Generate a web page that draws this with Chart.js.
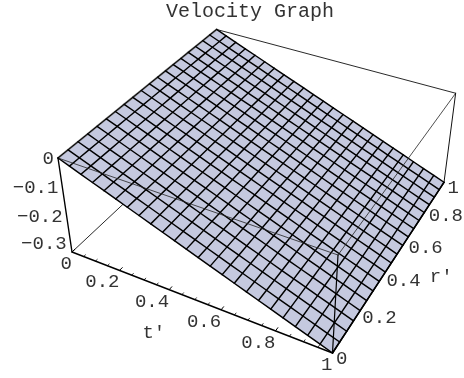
<!DOCTYPE html>
<html><head><meta charset="utf-8">
<style>html,body{margin:0;padding:0;background:#fff;overflow:hidden}#w{width:464px;height:378px;position:relative}</style>
<script src="https://cdn.jsdelivr.net/npm/chart.js@4"></script>
</head><body><div id="w"><canvas id="c" width="464" height="378"></canvas></div>
<script>
const titleText = "Velocity Graph";
const tGrid = [0,0.0435,0.087,0.1304,0.1739,0.2174,0.2609,0.3043,0.3478,0.3913,0.4348,0.4783,0.5217,0.5652,0.6087,0.6522,0.6957,0.7391,0.7826,0.8261,0.8696,0.913,0.9565,1];
const rGrid = [0,0.0526,0.1053,0.1579,0.2105,0.2632,0.3158,0.3684,0.4211,0.4737,0.5263,0.5789,0.6316,0.6842,0.7368,0.7895,0.8421,0.8947,0.9474,1];
const velocityByT = [0,-0.0145,-0.029,-0.0435,-0.058,-0.0725,-0.087,-0.1014,-0.1159,-0.1304,-0.1449,-0.1594,-0.1739,-0.1884,-0.2029,-0.2174,-0.2319,-0.2464,-0.2609,-0.2754,-0.2899,-0.3043,-0.3188,-0.3333];
const tTicks = [0,0.2,0.4,0.6,0.8,1];
const tMinorTicks = [0.05,0.1,0.15,0.25,0.3,0.35,0.45,0.5,0.55,0.65,0.7,0.75,0.85,0.9,0.95];
const rTicks = [0,0.2,0.4,0.6,0.8,1];
const zTicks = [0,-0.1,-0.2,-0.3];
const zMin = -0.3333, zMax = 0;

// Viewing transform of the 3D box (homogeneous): columns t, r, z-fraction, origin
const camX = [224.71,193.91,-17.92,72];
const camY = [63.0,-113.6,-104.67,252];
const camW = [-0.10764,0.2126,-0.06753,1];
function project(t,r,z){
  const f=(z-zMin)/(zMax-zMin);
  const d=camW[0]*t+camW[1]*r+camW[2]*f+camW[3];
  return {x:(camX[0]*t+camX[1]*r+camX[2]*f+camX[3])/d,
          y:(camY[0]*t+camY[1]*r+camY[2]*f+camY[3])/d};
}
const FONT='"Liberation Mono","Courier New",monospace';
const TEXT='#333';
const ds=[];
function line(pts,color,width,extra){
  ds.push(Object.assign({data:pts,showLine:true,borderColor:color,borderWidth:width,pointRadius:0,tension:0,fill:false,clip:false,borderCapStyle:'round'},extra||{}));
}
// hidden back edge, under the surface
line([project(0,0,zMin),project(0,1,zMin)],'#111',0.9);
// surface fill
line([project(0,0,0),project(0,1,0),project(1,1,zMin),project(1,0,zMin),project(0,0,0)],'rgba(0,0,0,0)',0,{fill:'shape',backgroundColor:'#c5c9df'});
// mesh
tGrid.forEach((t,i)=>{ line(rGrid.map(r=>project(t,r,velocityByT[i])),i===0?'#666':'#000',i===0?2:1.45); });
rGrid.forEach(r=>{ line(tGrid.map((t,i)=>project(t,r,velocityByT[i])),'#000',1.45); });
// box edges
line([project(0,0,0),project(1,0,0)],'#222',0.8);
line([project(1,0,0),project(1,1,0)],'#222',0.8);
line([project(0,1,0),project(1,1,0)],'#111',0.9);
line([project(1,1,0),project(1,1,zMin)],'#111',1);
line([project(1,0,0),project(1,0,zMin)],'#000',1.2);
line([project(0,0,0),project(0,1,0)],'#000',1);
// axes
line([project(0,0,0),project(0,0,zMin)],'#000',1.4);
line([project(0,0,zMin),project(1,0,zMin)],'#000',1.4);
line([project(1,0,zMin),project(1,1,zMin)],'#000',1.4);
tTicks.forEach(t=>line([project(t,0,zMin),project(t,0.016,zMin)],'#000',1));
tMinorTicks.forEach(t=>line([project(t,0,zMin),project(t,0.01,zMin)],'#000',0.8));

const labelPlugin={id:'labels',afterDatasetsDraw(chart){
  const c=chart.ctx,sx=chart.scales.x,sy=chart.scales.y;
  const put=(s,p,dx,dy,al)=>{c.textAlign=al;c.fillText(s,sx.getPixelForValue(p.x)+dx,sy.getPixelForValue(p.y)+dy);};
  c.save();c.fillStyle=TEXT;c.font='19px '+FONT;c.textBaseline='middle';
  tTicks.forEach(t=>put(String(t),project(t,0,zMin),0,12,'right'));
  rTicks.forEach(r=>put(String(r),project(1,r,zMin),3.5,5.5,'left'));
  zTicks.forEach(z=>put(String(z).replace('-','\u2212'),project(0,0,z),-4,0.5,'right'));
  put("t'",project(0.5,0,zMin),-41,33,'center');
  put("r'",project(1,0.5,zMin),47,18,'center');
  c.restore();
}};
new Chart(document.getElementById('c'),{
  type:'scatter',
  data:{datasets:ds.map((d,i)=>Object.assign(d,{order:-i}))},
  plugins:[labelPlugin],
  options:{
    responsive:false,animation:false,events:[],
    layout:{padding:{left:36}},
    plugins:{legend:{display:false},tooltip:{enabled:false},
      title:{display:true,text:titleText,color:TEXT,padding:0,fullSize:false,font:{family:FONT,size:20,weight:'normal'}}},
    scales:{x:{type:'linear',display:false,min:36,max:464},
            y:{type:'linear',display:false,min:24,max:378,reverse:true}}
  }
});
</script></body></html>
